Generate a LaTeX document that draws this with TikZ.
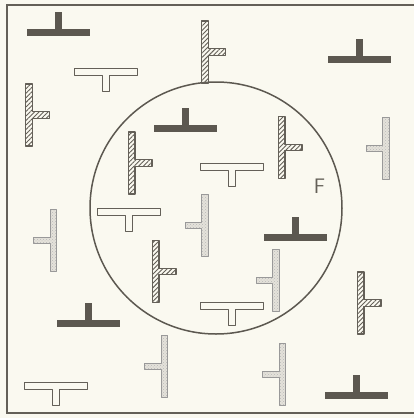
\documentclass[tikz,border=0pt]{standalone}
\usetikzlibrary{patterns,patterns.meta}
\definecolor{bg}{RGB}{250,249,240}
\definecolor{ink}{RGB}{92,88,80}
\definecolor{linec}{RGB}{100,96,88}
\definecolor{dotfill}{RGB}{228,226,218}
\begin{document}
\begin{tikzpicture}[x=1pt,y=-1pt,
  frameline/.style={draw=linec, line width=1.4pt},
  darkshape/.style={fill=ink, draw=none},
  openshape/.style={draw=linec, line width=1pt, fill=bg, line join=round},
  hatchshape/.style={draw=linec, line width=1.2pt, pattern={Lines[angle=45,distance=3.2pt,line width=0.9pt]}, pattern color=linec, line join=round},
  dotfillshape/.style={fill=dotfill, draw=none},
  dotshape/.style={draw=gray!80, line width=1pt, pattern=crosshatch dots, pattern color=gray!55, line join=round},
  pics/darkT/.style={code={
     \fill[darkshape] (-31.5,0) rectangle (31.5,7);
     \fill[darkshape] (-3.5,-17) rectangle (3.5,0.5);}},
  pics/openT/.style={code={
     \path[openshape] (-31.5,0) -- (31.5,0) -- (31.5,7) -- (3.5,7) -- (3.5,23) -- (-3.5,23) -- (-3.5,7) -- (-31.5,7) -- cycle;}},
  pics/hatchT/.style={code={
     \path[hatchshape] (-3.4,-31) -- (3.4,-31) -- (3.4,-3.25) -- (20.5,-3.25) -- (20.5,3.25) -- (3.4,3.25) -- (3.4,31) -- (-3.4,31) -- cycle;}},
  pics/dotT/.style={code={
     \path[dotfillshape] (3.25,-31) -- (-3.25,-31) -- (-3.25,-3) -- (-20,-3) -- (-20,3) -- (-3.25,3) -- (-3.25,31) -- (3.25,31) -- cycle;
     \path[dotshape] (3.25,-31) -- (-3.25,-31) -- (-3.25,-3) -- (-20,-3) -- (-20,3) -- (-3.25,3) -- (-3.25,31) -- (3.25,31) -- cycle;}}
]
\useasboundingbox (0,0) rectangle (413,418);
\fill[bg] (-6,-6) rectangle (420,424);
% frame (open on the right)
\draw[frameline] (416,5) -- (7,5) -- (7,413) -- (416,413);
% circle
\draw[draw=ink, line width=1.5pt] (216,208) circle[radius=126];
\node[text=linec, font=\sffamily\fontsize{21}{21}\selectfont] (F) at (319.5,186) {F};
% dark inverted T
\pic at (58,29) {darkT};
\pic at (185,125) {darkT};
\pic at (359,56) {darkT};
\pic at (88.5,320) {darkT};
\pic at (295,234) {darkT};
\pic at (356,392) {darkT};
% open T
\pic at (105.5,68) {openT};
\pic at (231.5,163) {openT};
\pic at (128.5,208) {openT};
\pic at (232,302) {openT};
\pic at (55.5,382) {openT};
% hatched
\pic at (29,115) {hatchT};
\pic at (205,52) {hatchT};
\pic at (131.5,163) {hatchT};
\pic at (281.5,147.5) {hatchT};
\pic at (155.5,271.5) {hatchT};
\pic at (360.5,303) {hatchT};
% dotted
\pic at (386,148.5) {dotT};
\pic at (53.5,240.5) {dotT};
\pic at (205,225) {dotT};
\pic at (164.5,366) {dotT};
\pic at (276,280) {dotT};
\pic at (282.5,374.5) {dotT};
\end{tikzpicture}
\end{document}
